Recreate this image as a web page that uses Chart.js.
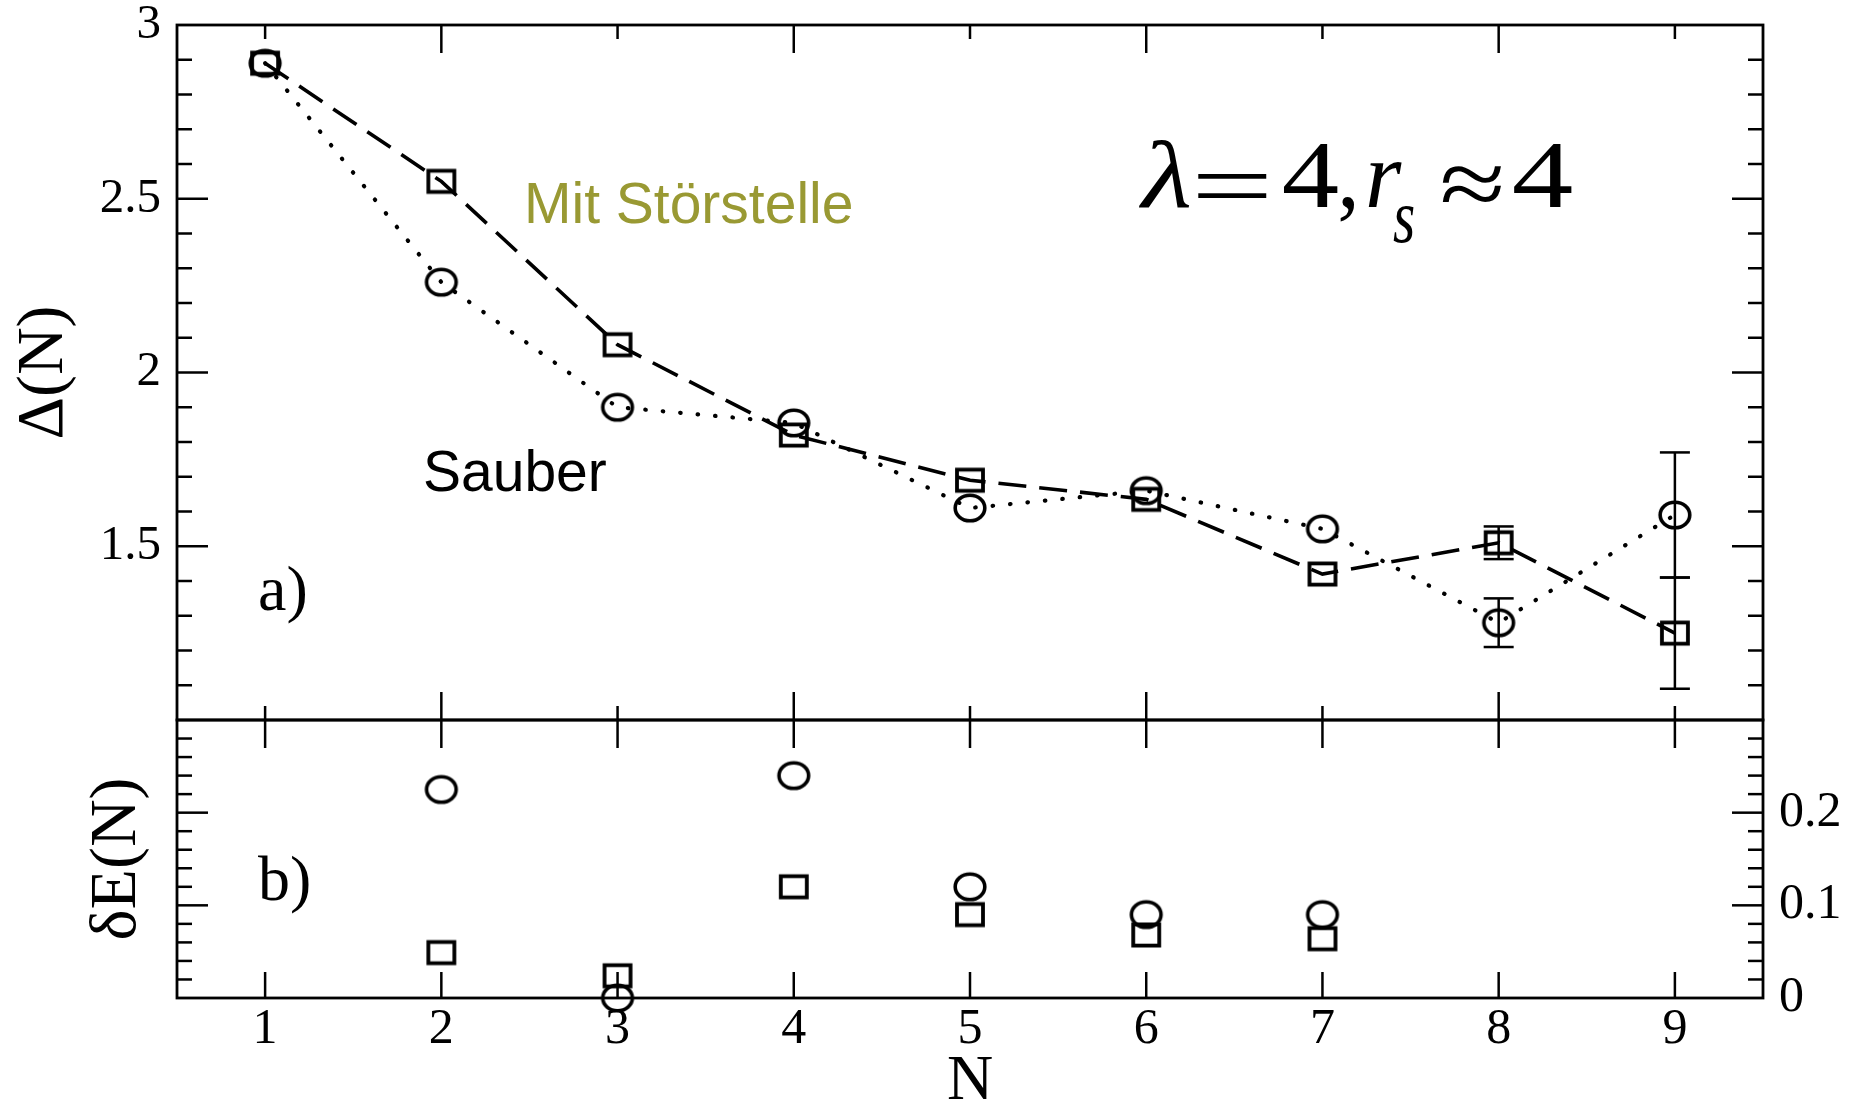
<!DOCTYPE html>
<html>
<head>
<meta charset="utf-8">
<script src="https://cdn.jsdelivr.net/npm/chart.js@4.4.1/dist/chart.umd.min.js"></script>
<style>
  html, body { margin: 0; padding: 0; background: #fff; }
  #wrap { position: relative; width: 1861px; height: 1108px; }
  canvas { position: absolute; left: 0; top: 0; }
</style>
</head>
<body>
<div id="wrap">
  <canvas id="gapChart" width="1861" height="1108"></canvas>
  <canvas id="deltaChart" width="1861" height="1108"></canvas>
</div>
<script>
// particle number N
const particleN = [1, 2, 3, 4, 5, 6, 7, 8, 9];

// a) Delta(N), clean dot ("Sauber", circles) and with impurity ("Mit Störstelle", squares)
const gapClean = [2.89, 2.26, 1.90, 1.855, 1.61, 1.66, 1.55, 1.28, 1.59];
const gapCleanErr = [0, 0, 0, 0, 0, 0, 0, 0.07, 0.18];
const gapImpurity = [2.89, 2.55, 2.08, 1.82, 1.69, 1.635, 1.42, 1.51, 1.25];
const gapImpurityErr = [0, 0, 0, 0, 0, 0, 0, 0.047, 0.16];

// b) deltaE(N)
const dEClean = [null, 0.225, 0.0, 0.24, 0.12, 0.09, 0.09, null, null];
const dEImpurity = [null, 0.049, 0.024, 0.12, 0.09, 0.068, 0.064, null, null];

// tick labels
const gapTickValues = [1, 1.5, 2, 2.5, 3];
const gapTickLabels = ['', '1.5', '2', '2.5', '3'];
const dETickValues = [0, 0.1, 0.2, 0.3];
const dETickLabels = ['0', '0.1', '0.2', ''];

const SERIF = 'Liberation Serif';
const SANS = 'Liberation Sans';
Chart.defaults.font.family = SERIF;
Chart.defaults.color = '#000';

// hollow markers, a little wider than tall like in the original
function markerCanvas(kind) {
    const c = document.createElement('canvas');
    c.width = 40;
    c.height = 36;
    const g = c.getContext('2d');
    g.strokeStyle = '#000';
    if (kind === 'circle') {
        g.lineWidth = 3.6;
        g.beginPath();
        g.ellipse(20, 18, 14.8, 12.8, 0, 0, Math.PI * 2);
        g.stroke();
    } else {
        g.lineWidth = 3.8;
        g.strokeRect(7, 7.4, 26, 21.2);
    }
    return c;
}
const circleImg = markerCanvas('circle');
const squareImg = markerCanvas('square');

function pts(ys) {
    return particleN.map((n, i) => ({x: n, y: ys[i]})).filter(p => p.y !== null);
}

function fixedTicks(values) {
    return s => { s.ticks = values.map(v => ({value: v})); };
}

function tick(ctx, x1, y1, x2, y2) {
    ctx.beginPath();
    ctx.moveTo(x1, y1);
    ctx.lineTo(x2, y2);
    ctx.stroke();
}

// frame with inward ticks
function frameTicks(yMinor, yCount, majorEvery, xTopLen, xBottomLen) {
    return {
        id: 'frameTicks',
        afterDatasetsDraw(chart) {
            const {ctx, chartArea: a, scales} = chart;
            const x = scales.x, y = scales.y;
            ctx.save();
            ctx.strokeStyle = '#000';
            ctx.lineWidth = 2.5;
            for (let i = 1; i < yCount; i++) {
                const py = y.getPixelForValue(y.min + i * yMinor);
                const len = i % majorEvery === 0 ? 31 : 15;
                tick(ctx, a.left, py, a.left + len, py);
                tick(ctx, a.right - len, py, a.right, py);
            }
            particleN.forEach(n => {
                const px = x.getPixelForValue(n);
                tick(ctx, px, a.top, px, a.top + xTopLen(n));
                tick(ctx, px, a.bottom - xBottomLen(n), px, a.bottom);
            });
            ctx.lineWidth = 2.8;
            ctx.strokeRect(a.left, a.top, a.right - a.left, a.bottom - a.top);
            ctx.restore();
        }
    };
}

const errorBars = {
    id: 'errorBars',
    afterDatasetsDraw(chart) {
        const {ctx, scales: {x, y}} = chart;
        ctx.save();
        ctx.strokeStyle = '#000';
        ctx.lineWidth = 2.5;
        chart.data.datasets.forEach(ds => {
            ds.data.forEach((p, i) => {
                const e = ds.errors[i];
                if (!e) return;
                const px = x.getPixelForValue(p.x);
                const lo = y.getPixelForValue(p.y - e);
                const hi = y.getPixelForValue(p.y + e);
                tick(ctx, px, lo, px, hi);
                tick(ctx, px - 15, lo, px + 15, lo);
                tick(ctx, px - 15, hi, px + 15, hi);
            });
        });
        ctx.restore();
    }
};

// draw a glyph so that its ink spans [left, right] horizontally and ends at inkBottom
function fitGlyph(ctx, text, font, left, right, inkBottom) {
    ctx.font = font;
    const m = ctx.measureText(text);
    const ink = m.actualBoundingBoxLeft + m.actualBoundingBoxRight;
    const sx = (right - left) / ink;
    ctx.save();
    ctx.translate(left + m.actualBoundingBoxLeft * sx, inkBottom - m.actualBoundingBoxDescent);
    ctx.scale(sx, 1);
    ctx.fillText(text, 0, 0);
    ctx.restore();
}

const labels = {
    id: 'labels',
    afterDraw(chart) {
        const ctx = chart.ctx;
        ctx.save();
        ctx.textBaseline = 'alphabetic';
        ctx.textAlign = 'left';
        ctx.font = `57px "${SANS}"`;
        ctx.fillStyle = '#999933';
        ctx.fillText('Mit Störstelle', 524, 223);
        ctx.fillStyle = '#000';
        ctx.fillText('Sauber', 423, 491);

        ctx.font = `64px "${SERIF}"`;
        ctx.fillText('a)', 258, 610);
        ctx.fillText('b)', 258, 900);

        // lambda = 4, r_s ~ 4
        const it = `italic 96px "${SERIF}"`;
        const rm = `96px "${SERIF}"`;
        fitGlyph(ctx, 'λ', it, 1138, 1190, 208);
        fitGlyph(ctx, '=', rm, 1197, 1267, 198);
        fitGlyph(ctx, '4', rm, 1283, 1338, 207);
        fitGlyph(ctx, ',', rm, 1340, 1354, 222);
        fitGlyph(ctx, 'r', it, 1368, 1402, 207);
        fitGlyph(ctx, 's', `italic 76px "${SERIF}"`, 1393, 1414, 243);
        fitGlyph(ctx, '≈', rm, 1442, 1502, 202);
        fitGlyph(ctx, '4', rm, 1513, 1572, 207);
        ctx.restore();
    }
};

new Chart(document.getElementById('gapChart'), {
    type: 'line',
    data: {
        datasets: [
            {
                label: 'Sauber',
                data: pts(gapClean),
                errors: gapCleanErr,
                borderColor: '#000',
                borderWidth: 4.2,
                borderDash: [0.5, 17],
                borderCapStyle: 'round',
                pointStyle: circleImg,
                pointRadius: 15,
                tension: 0,
                clip: false
            },
            {
                label: 'Mit Störstelle',
                data: pts(gapImpurity),
                errors: gapImpurityErr,
                borderColor: '#000',
                borderWidth: 3.6,
                borderDash: [28, 13],
                pointStyle: squareImg,
                pointRadius: 15,
                tension: 0,
                clip: false
            }
        ]
    },
    options: {
        responsive: false,
        animation: false,
        events: [],
        layout: {padding: {left: 0, top: 25, right: 98, bottom: 388}},
        plugins: {legend: {display: false}, tooltip: {enabled: false}},
        scales: {
            x: {type: 'linear', min: 0.5, max: 9.5, display: false},
            y: {
                type: 'linear',
                position: 'left',
                min: 1,
                max: 3,
                grid: {display: false, drawTicks: false},
                border: {display: false},
                afterBuildTicks: fixedTicks(gapTickValues),
                ticks: {
                    padding: 16,
                    font: {size: 49, lineHeight: 0.1},
                    callback: (v, i) => gapTickLabels[i]
                },
                title: {display: true, text: 'Δ(N)', font: {size: 66, lineHeight: 1}, padding: {top: 12}},
                afterFit: s => { s.width = 177; }
            }
        }
    },
    plugins: [frameTicks(0.1, 20, 5, n => n % 2 === 0 ? 28 : 14, n => n % 2 === 0 ? 28 : 14), errorBars, labels]
});

new Chart(document.getElementById('deltaChart'), {
    type: 'line',
    data: {
        datasets: [
            {
                label: 'Sauber',
                data: pts(dEClean),
                showLine: false,
                pointStyle: circleImg,
                pointRadius: 15,
                clip: false
            },
            {
                label: 'Mit Störstelle',
                data: pts(dEImpurity),
                showLine: false,
                pointStyle: squareImg,
                pointRadius: 15,
                clip: false
            }
        ]
    },
    options: {
        responsive: false,
        animation: false,
        events: [],
        layout: {padding: {left: 0, top: 720, right: 0, bottom: 0}},
        plugins: {legend: {display: false}, tooltip: {enabled: false}},
        scales: {
            x: {
                type: 'linear',
                position: 'bottom',
                min: 0.5,
                max: 9.5,
                grid: {display: false, drawTicks: false},
                border: {display: false},
                afterBuildTicks: fixedTicks(particleN),
                ticks: {padding: 2, autoSkip: false, maxRotation: 0, font: {size: 50},
                        callback: v => String(v)},
                title: {display: true, text: 'N', font: {size: 64, lineHeight: 0.8}, padding: 0},
                afterFit: s => { s.height = 110; }
            },
            y: {
                type: 'linear',
                position: 'right',
                min: 0,
                max: 0.3,
                grid: {display: false, drawTicks: false},
                border: {display: false},
                afterBuildTicks: fixedTicks(dETickValues),
                ticks: {
                    padding: 16,
                    font: {size: 50, lineHeight: 0.1},
                    callback: (v, i) => dETickLabels[i]
                },
                afterFit: s => { s.width = 98; }
            },
            yl: {
                type: 'linear',
                position: 'left',
                min: 0,
                max: 0.3,
                grid: {display: false, drawTicks: false},
                border: {display: false},
                ticks: {display: false},
                title: {display: true, text: 'δE(N)', font: {size: 66, lineHeight: 1}, padding: {top: 85}},
                afterFit: s => { s.width = 177; }
            }
        }
    },
    plugins: [frameTicks(0.02, 15, 5, () => 28, () => 26)]
});
</script>
</body>
</html>
